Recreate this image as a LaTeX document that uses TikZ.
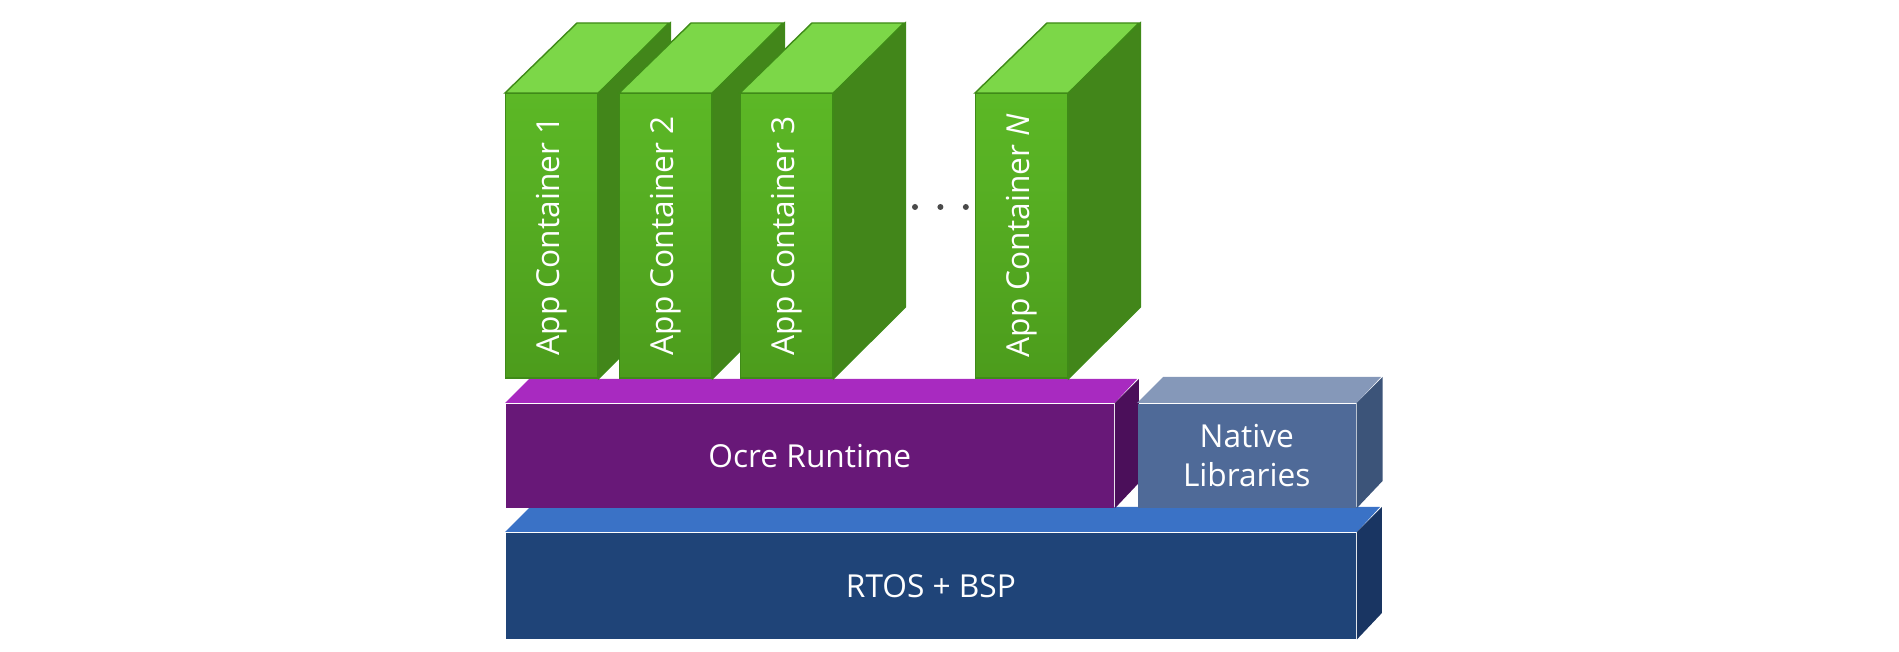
\documentclass[tikz,border=0pt]{standalone}
\usepackage{fontspec}
\setmainfont{Open Sans}
\usetikzlibrary{positioning}

\definecolor{appfronttop}{HTML}{5CB826}
\definecolor{appfrontbot}{HTML}{4C9C1C}
\definecolor{apptop}{HTML}{7CD748}
\definecolor{appside}{HTML}{42861A}
\definecolor{appedge}{HTML}{3F8A18}
\definecolor{ocrefront}{HTML}{681878}
\definecolor{ocretop}{HTML}{A82AC0}
\definecolor{ocreside}{HTML}{4B0F5A}
\definecolor{nativefront}{HTML}{4F6A98}
\definecolor{nativetop}{HTML}{8598B9}
\definecolor{nativeside}{HTML}{3C5479}
\definecolor{rtosfront}{HTML}{1F4478}
\definecolor{rtostop}{HTML}{3A72C6}
\definecolor{rtosside}{HTML}{193562}
\definecolor{dotgray}{HTML}{4A4A4A}

\begin{document}
\begin{tikzpicture}[
		x=0.01cm, y=-0.01cm,
		face/.style = {rectangle, inner sep=0pt, anchor=north west, text=white, align=center, font=\fontsize{9}{11}\selectfont},
		app/.style = {face, draw=appedge, line width=0.4pt, minimum width=0.92cm, minimum height=2.84cm, top color=appfronttop, bottom color=appfrontbot},
		layer/.style = {face, minimum height=1.04cm},
		dot/.style = {circle, fill=dotgray, minimum size=0.06cm, inner sep=0pt}
	]
	\useasboundingbox (0,0) rectangle (1899,652);
	% bottom layer
	\node[layer, fill=rtosfront, minimum width=8.50cm, minimum height=1.06cm] (rtos) at (505,532) {RTOS + BSP};
	\fill[rtostop] (rtos.north west) -- ++(25,-25) -- ++(850,0) -- (rtos.north east) -- cycle;
	\fill[rtosside] (rtos.north east) -- ++(25,-25) -- ++(0,106) -- (rtos.south east) -- cycle;
	% middle layer
	\node[layer, fill=ocrefront, minimum width=6.08cm] (ocre) at (505,403) {Ocre Runtime};
	\fill[ocretop] (ocre.north west) -- ++(24,-24) -- ++(608,0) -- (ocre.north east) -- cycle;
	\fill[ocreside] (ocre.north east) -- ++(24,-24) -- ++(0,104) -- (ocre.south east) -- cycle;
	\node[layer, fill=nativefront, minimum width=2.18cm] (native) at (1137,403) {Native\\Libraries};
	\fill[nativetop] (native.north west) -- ++(26,-26) -- ++(218,0) -- (native.north east) -- cycle;
	\fill[nativeside] (native.north east) -- ++(26,-26) -- ++(0,104) -- (native.south east) -- cycle;
	% app containers
	\node[app] (c1) at (505,93) {\rotatebox{90}{App Container 1}};
	\filldraw[fill=apptop, draw=appedge, line width=0.4pt] (c1.north west) -- ++(72,-70) -- ++(92,0) -- (c1.north east) -- cycle;
	\filldraw[fill=appside, draw=appedge, line width=0.4pt] (c1.north east) -- ++(72,-70) -- ++(0,284) -- (c1.south east) -- cycle;
	\node[app] (c2) at (619,93) {\rotatebox{90}{App Container 2}};
	\filldraw[fill=apptop, draw=appedge, line width=0.4pt] (c2.north west) -- ++(72,-70) -- ++(92,0) -- (c2.north east) -- cycle;
	\filldraw[fill=appside, draw=appedge, line width=0.4pt] (c2.north east) -- ++(72,-70) -- ++(0,284) -- (c2.south east) -- cycle;
	\node[app] (c3) at (740,93) {\rotatebox{90}{App Container 3}};
	\filldraw[fill=apptop, draw=appedge, line width=0.4pt] (c3.north west) -- ++(72,-70) -- ++(92,0) -- (c3.north east) -- cycle;
	\filldraw[fill=appside, draw=appedge, line width=0.4pt] (c3.north east) -- ++(72,-70) -- ++(0,284) -- (c3.south east) -- cycle;
	\node[app] (cn) at (975,93) {\rotatebox{90}{App Container \textit{N}}};
	\filldraw[fill=apptop, draw=appedge, line width=0.4pt] (cn.north west) -- ++(72,-70) -- ++(92,0) -- (cn.north east) -- cycle;
	\filldraw[fill=appside, draw=appedge, line width=0.4pt] (cn.north east) -- ++(72,-70) -- ++(0,284) -- (cn.south east) -- cycle;
	% dots
	\node[dot] (d1) at (915,207) {};
	\node[dot] (d2) [right=0.18cm of d1] {};
	\node[dot] (d3) [right=0.18cm of d2] {};
\end{tikzpicture}
\end{document}
